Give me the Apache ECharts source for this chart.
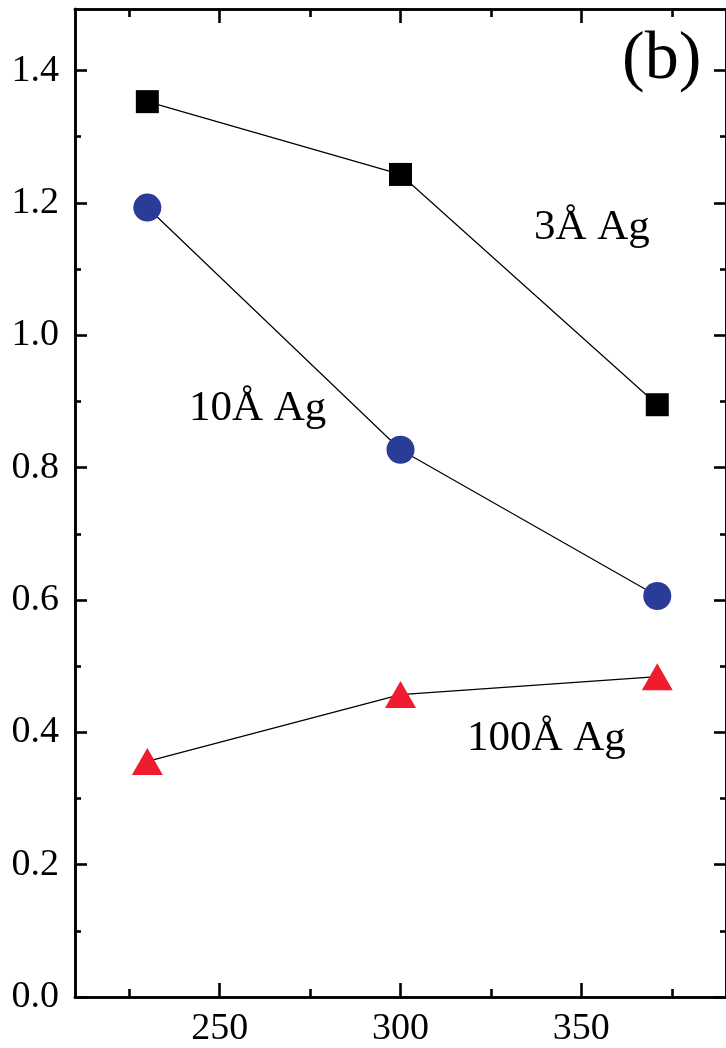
<!DOCTYPE html>
<html>
<head>
<meta charset="utf-8">
<script src="https://cdn.jsdelivr.net/npm/echarts@6/dist/echarts.min.js"></script>
<style>
  html, body { margin: 0; padding: 0; background: #fff; }
  #main { width: 726px; height: 1048px; }
</style>
</head>
<body>
<div id="main"></div>
<script>
// values
var temps = [230, 300, 371];
var ag3 = [1.353, 1.243, 0.895];
var ag10 = [1.193, 0.827, 0.606];
var ag100 = [0.356, 0.457, 0.484];

var xMajor = [250, 300, 350];
var xMinor = [225, 275, 325, 375];
var yMajor = [0, 0.2, 0.4, 0.6, 0.8, 1.0, 1.2, 1.4];
var yMinor = [0.1, 0.3, 0.5, 0.7, 0.9, 1.1, 1.3];

var FONT = '"Liberation Serif", "Times New Roman", Times, serif';

function pairs(ys) {
  return temps.map(function (t, i) { return [t, ys[i]]; });
}

function axisX(pos, ticks, len, labels) {
  return {
    type: 'value', position: pos, min: 210, max: 390,
    axisLine: { show: true, onZero: false, lineStyle: { color: '#000', width: 2.6 } },
    axisTick: { show: true, inside: true, length: len, customValues: ticks,
      lineStyle: { color: '#000', width: 2.6 } },
    axisLabel: labels ? { show: true, customValues: ticks, margin: 13,
      fontFamily: FONT, fontSize: 38, color: '#000' } : { show: false },
    splitLine: { show: false }
  };
}

function axisY(pos, ticks, len, labels) {
  return {
    type: 'value', position: pos, min: 0, max: 1.493,
    axisLine: { show: true, onZero: false, lineStyle: { color: '#000', width: 2.6 } },
    axisTick: { show: true, inside: true, length: len, customValues: ticks,
      lineStyle: { color: '#000', width: 2.6 } },
    axisLabel: labels ? { show: true, customValues: ticks, margin: 16,
      fontFamily: FONT, fontSize: 38, color: '#000',
      formatter: function (v) { return v.toFixed(1); } } : { show: false },
    splitLine: { show: false }
  };
}

function line(name, ys, symbol, size, color) {
  return {
    name: name, type: 'line', xAxisIndex: 0, yAxisIndex: 0,
    data: pairs(ys),
    symbol: symbol, symbolSize: size, showSymbol: true,
    itemStyle: { color: color, opacity: 1 },
    lineStyle: { color: '#000', width: 1.2 },
    z: 3
  };
}

var chart = echarts.init(document.getElementById('main'));
chart.setOption({
  animation: false,
  backgroundColor: '#fff',
  grid: { left: 75, top: 9, width: 653, height: 988 },
  xAxis: [
    axisX('bottom', xMajor, 14, true),
    axisX('bottom', xMinor, 8, false),
    axisX('top', xMajor, 14, false),
    axisX('top', xMinor, 8, false)
  ],
  yAxis: [
    axisY('left', yMajor, 12, true),
    axisY('left', yMinor, 6, false),
    axisY('right', yMajor, 12, false),
    axisY('right', yMinor, 6, false)
  ],
  series: [
    line('3Å Ag', ag3, 'rect', 23, '#000'),
    line('10Å Ag', ag10, 'circle', 28, '#283c98'),
    line('100Å Ag', ag100, 'triangle', [31, 27], '#ee1c2e')
  ],
  graphic: [
    { type: 'text', left: 534, top: 206, style: { text: '3Å Ag', fontFamily: FONT, fontSize: 43, fill: '#000' } },
    { type: 'text', left: 189, top: 387, style: { text: '10Å Ag', fontFamily: FONT, fontSize: 43, fill: '#000' } },
    { type: 'text', left: 467, top: 717, style: { text: '100Å Ag', fontFamily: FONT, fontSize: 43, fill: '#000' } },
    { type: 'text', left: 622, top: 26, style: { text: '(b)', fontFamily: FONT, fontSize: 68, fill: '#000' } }
  ]
});
</script>
</body>
</html>
